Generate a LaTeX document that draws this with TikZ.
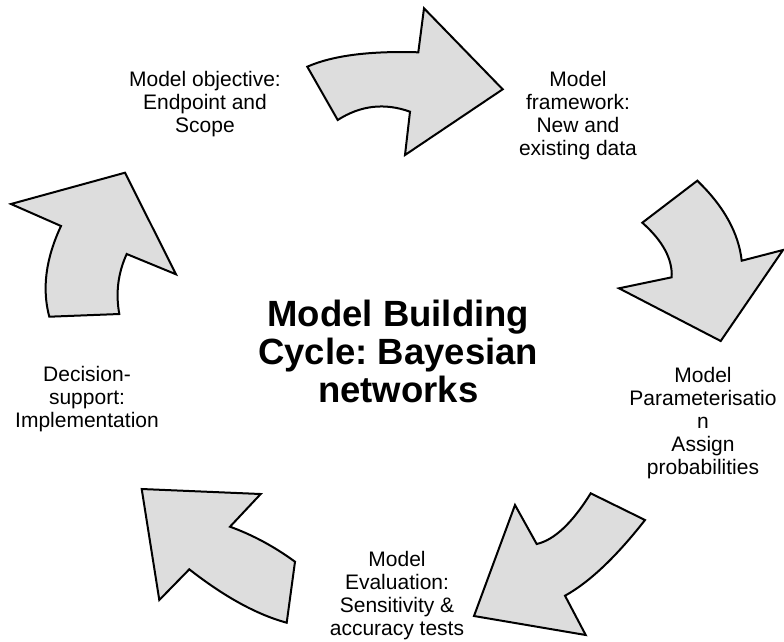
\documentclass[tikz,border=0pt]{standalone}
\usepackage{fontspec}
\setmainfont{Liberation Sans}
\frenchspacing
\begin{document}
\begin{tikzpicture}[x=1pt,y=-1pt,
  cyclearrow/.style={draw=black, fill=arrowgray, line width=2pt, line join=miter},
  lbl/.style={anchor=base, align=center, inner sep=0pt, font=\fontsize{21}{23}\selectfont\frenchspacing},
  ttl/.style={anchor=base, align=center, inner sep=0pt, font=\fontsize{36.5}{38}\selectfont\bfseries\frenchspacing}]
\definecolor{arrowgray}{HTML}{DDDDDD}
\useasboundingbox (0,0) rectangle (784,641);
% arrow 1 (top)
\draw[cyclearrow] (307.3,66.7) .. controls (332.4,55.6) and (369.4,50.8) .. (418.3,52.3)
  -- (424,8.3) -- (502.7,89.3) -- (405,155) -- (410,111.7)
  .. controls (384.7,102.6) and (360.6,105.3) .. (337.7,120) -- cycle;
% arrow 2 (right)
\draw[cyclearrow] (642.3,222.7) -- (697.3,180.7)
  .. controls (723.8,206.2) and (738.6,232.9) .. (741.7,260.7)
  -- (783,250) -- (720.7,341) -- (619,288.3) -- (671.7,277.3)
  .. controls (672.6,259.1) and (662.8,240.9) .. (642.3,222.7) -- cycle;
% arrow 3 (bottom right)
\draw[cyclearrow] (590.7,493.3) -- (645,520)
  .. controls (616.1,556.9) and (589.4,582.2) .. (565,595.7)
  -- (585.7,635) -- (474,616) -- (515,505) -- (536.7,544)
  .. controls (554.2,540) and (572.2,523.1) .. (590.7,493.3) -- cycle;
% arrow 4 (bottom left)
\draw[cyclearrow] (286.7,622.7) -- (295,561.7)
  .. controls (274.3,546.6) and (252.7,534.9) .. (230,526.7)
  -- (260.7,494) -- (141.7,489) -- (159.3,600) -- (189.3,569.3)
  .. controls (224.4,596.8) and (256.9,614.6) .. (286.7,622.7) -- cycle;
% arrow 5 (left)
\draw[cyclearrow] (49.3,316.7) -- (119.3,314)
  .. controls (115.5,293.1) and (118,273.1) .. (126.7,254)
  -- (176,274.3) -- (125,172.7) -- (11,204) -- (61,226)
  .. controls (45.7,258.7) and (41.8,288.9) .. (49.3,316.7) -- cycle;
% labels
\node[lbl] (obj) at (205,132) {Model objective:\\Endpoint and\\Scope};
\node[lbl] (frame) at (578,155.5) {Model\\framework:\\New and\\existing data};
\node[lbl] (param) at (703,474) {Model\\Parameterisatio\\n\\Assign\\probabilities};
\node[lbl] (eval) at (397,635.7) {Model\\Evaluation:\\Sensitivity \&\\accuracy tests};
\node[lbl] (dec) at (87,427.7) {Decision-\\support:\\Implementation};
\node[ttl] (title) at (398.3,402) {Model Building\\Cycle: Bayesian\\networks};
\end{tikzpicture}
\end{document}
